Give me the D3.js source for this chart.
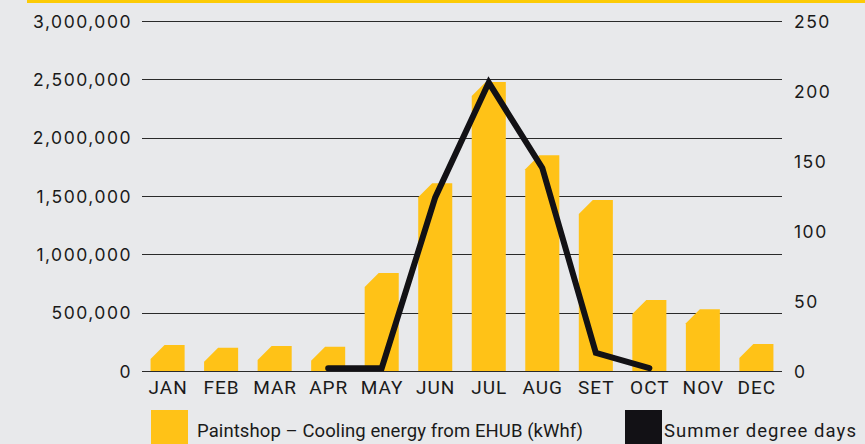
<!DOCTYPE html>
<html>
<head>
<meta charset="utf-8">
<script src="https://cdn.jsdelivr.net/npm/d3@7"></script>
<style>
  body { margin: 0; background: #e8e9eb; }
  svg { display: block; }
  .axis text { font-family: "Inter", "Lato", sans-serif; fill: #1a1a1a; }
</style>
</head>
<body>
<div class="chart"></div>
<script>
var svgWidth = 865;
var svgHeight = 444;

// data
var months = ["JAN", "FEB", "MAR", "APR", "MAY", "JUN", "JUL", "AUG", "SET", "OCT", "NOV", "DEC"];
var coolingEnergy = [222000, 200000, 214000, 208000, 840000, 1610000, 2477000, 1850000, 1466000, 609000, 529000, 231000];
var degreeMonths = ["APR", "MAY", "JUN", "JUL", "AUG", "SET", "OCT"];
var degreeDays = [2, 2, 124, 206, 145, 13, 2];
var leftTicks = [0, 500000, 1000000, 1500000, 2000000, 2500000, 3000000];
var rightTicks = [0, 50, 100, 150, 200, 250];

var plot = { left: 142, right: 782, top: 21, bottom: 371 };

var svg = d3.select(".chart")
  .append("svg")
  .attr("width", svgWidth)
  .attr("height", svgHeight);

// yellow strip at the top
svg.append("rect")
  .attr("x", 27).attr("y", 0)
  .attr("width", svgWidth - 27).attr("height", 3)
  .attr("fill", "#fccb06");

var x = d3.scaleBand()
  .domain(months)
  .range([plot.left, plot.right])
  .paddingInner(0.364)
  .paddingOuter(0.16);

var yLeft = d3.scaleLinear()
  .domain([0, 3000000])
  .range([plot.bottom, plot.top]);

var yRight = d3.scaleLinear()
  .domain([0, 250])
  .range([plot.bottom, plot.top]);

// gridlines
svg.append("g")
  .selectAll("line")
  .data(leftTicks)
  .enter()
  .append("line")
  .attr("x1", plot.left)
  .attr("x2", plot.right)
  .attr("y1", d => Math.round(yLeft(d)) + 0.5)
  .attr("y2", d => Math.round(yLeft(d)) + 0.5)
  .attr("stroke", "#2a2a2a")
  .attr("stroke-width", 1.2);

// left axis labels
var leftAxis = svg.append("g")
  .attr("class", "axis")
  .attr("transform", `translate(${plot.left}, 0)`)
  .call(d3.axisLeft(yLeft).tickValues(leftTicks).tickFormat(d3.format(",")).tickSize(0).tickPadding(10));
leftAxis.select(".domain").remove();
leftAxis.selectAll("text")
  .style("font-size", "17.5px")
  .style("letter-spacing", "1.5px")
  .attr("dy", "0.36em");

// right axis labels
var rightAxis = svg.append("g")
  .attr("class", "axis")
  .attr("transform", `translate(${plot.right}, 0)`)
  .call(d3.axisRight(yRight).tickValues(rightTicks).tickSize(0).tickPadding(12));
rightAxis.select(".domain").remove();
rightAxis.selectAll("text")
  .style("font-size", "17.5px")
  .style("letter-spacing", "1.5px")
  .attr("dy", "0.36em");

// bars with a cut top-left corner
var bevel = 14;
svg.append("g")
  .selectAll("path")
  .data(coolingEnergy)
  .enter()
  .append("path")
  .attr("fill", "#ffc217")
  .attr("d", function(d, i) {
    var x0 = x(months[i]);
    var x1 = x0 + x.bandwidth();
    var yTop = yLeft(d);
    var yBase = plot.bottom;
    var cut = Math.min(bevel, yBase - yTop);
    return `M${x0},${yBase}L${x0},${yTop + cut}L${x0 + bevel},${yTop}L${x1},${yTop}L${x1},${yBase}Z`;
  });

// baseline on top of bars
svg.append("line")
  .attr("x1", plot.left).attr("x2", plot.right)
  .attr("y1", plot.bottom + 0.5).attr("y2", plot.bottom + 0.5)
  .attr("stroke", "#2a2a2a")
  .attr("stroke-width", 1.2);

// degree days line
var line = d3.line()
  .x((d, i) => x(degreeMonths[i]) + x.bandwidth() / 2)
  .y(d => yRight(d));

svg.append("path")
  .datum(degreeDays)
  .attr("d", line)
  .attr("fill", "none")
  .attr("stroke", "#121115")
  .attr("stroke-width", 6)
  .attr("stroke-linejoin", "miter")
  .attr("stroke-linecap", "round");

// month labels
svg.append("g")
  .selectAll("text")
  .data(months)
  .enter()
  .append("text")
  .attr("x", d => x(d) + x.bandwidth() / 2 + 0.5)
  .attr("y", 394)
  .attr("text-anchor", "middle")
  .style("font-family", "'Roboto', sans-serif")
  .style("font-size", "19px")
  .style("letter-spacing", "1px")
  .style("fill", "#1a1a1a")
  .text(d => d);

// legend
var legendItems = [
  { label: "Paintshop – Cooling energy from EHUB (kWhf)", color: "#ffc217", x: 151, gap: 46, len: 386 },
  { label: "Summer degree days", color: "#121115", x: 625, gap: 39, len: 192 }
];
var legend = svg.append("g")
  .selectAll("g")
  .data(legendItems)
  .enter()
  .append("g")
  .attr("transform", d => `translate(${d.x}, 410)`);

legend.append("rect")
  .attr("width", 37)
  .attr("height", 34)
  .attr("fill", d => d.color);

legend.append("text")
  .attr("x", d => d.gap)
  .attr("y", 27)
  .attr("textLength", d => d.len)
  .attr("lengthAdjust", "spacing")
  .style("font-family", "'Roboto', sans-serif")
  .style("font-size", "18.5px")
  .style("fill", "#1a1a1a")
  .text(d => d.label);
</script>
</body>
</html>
